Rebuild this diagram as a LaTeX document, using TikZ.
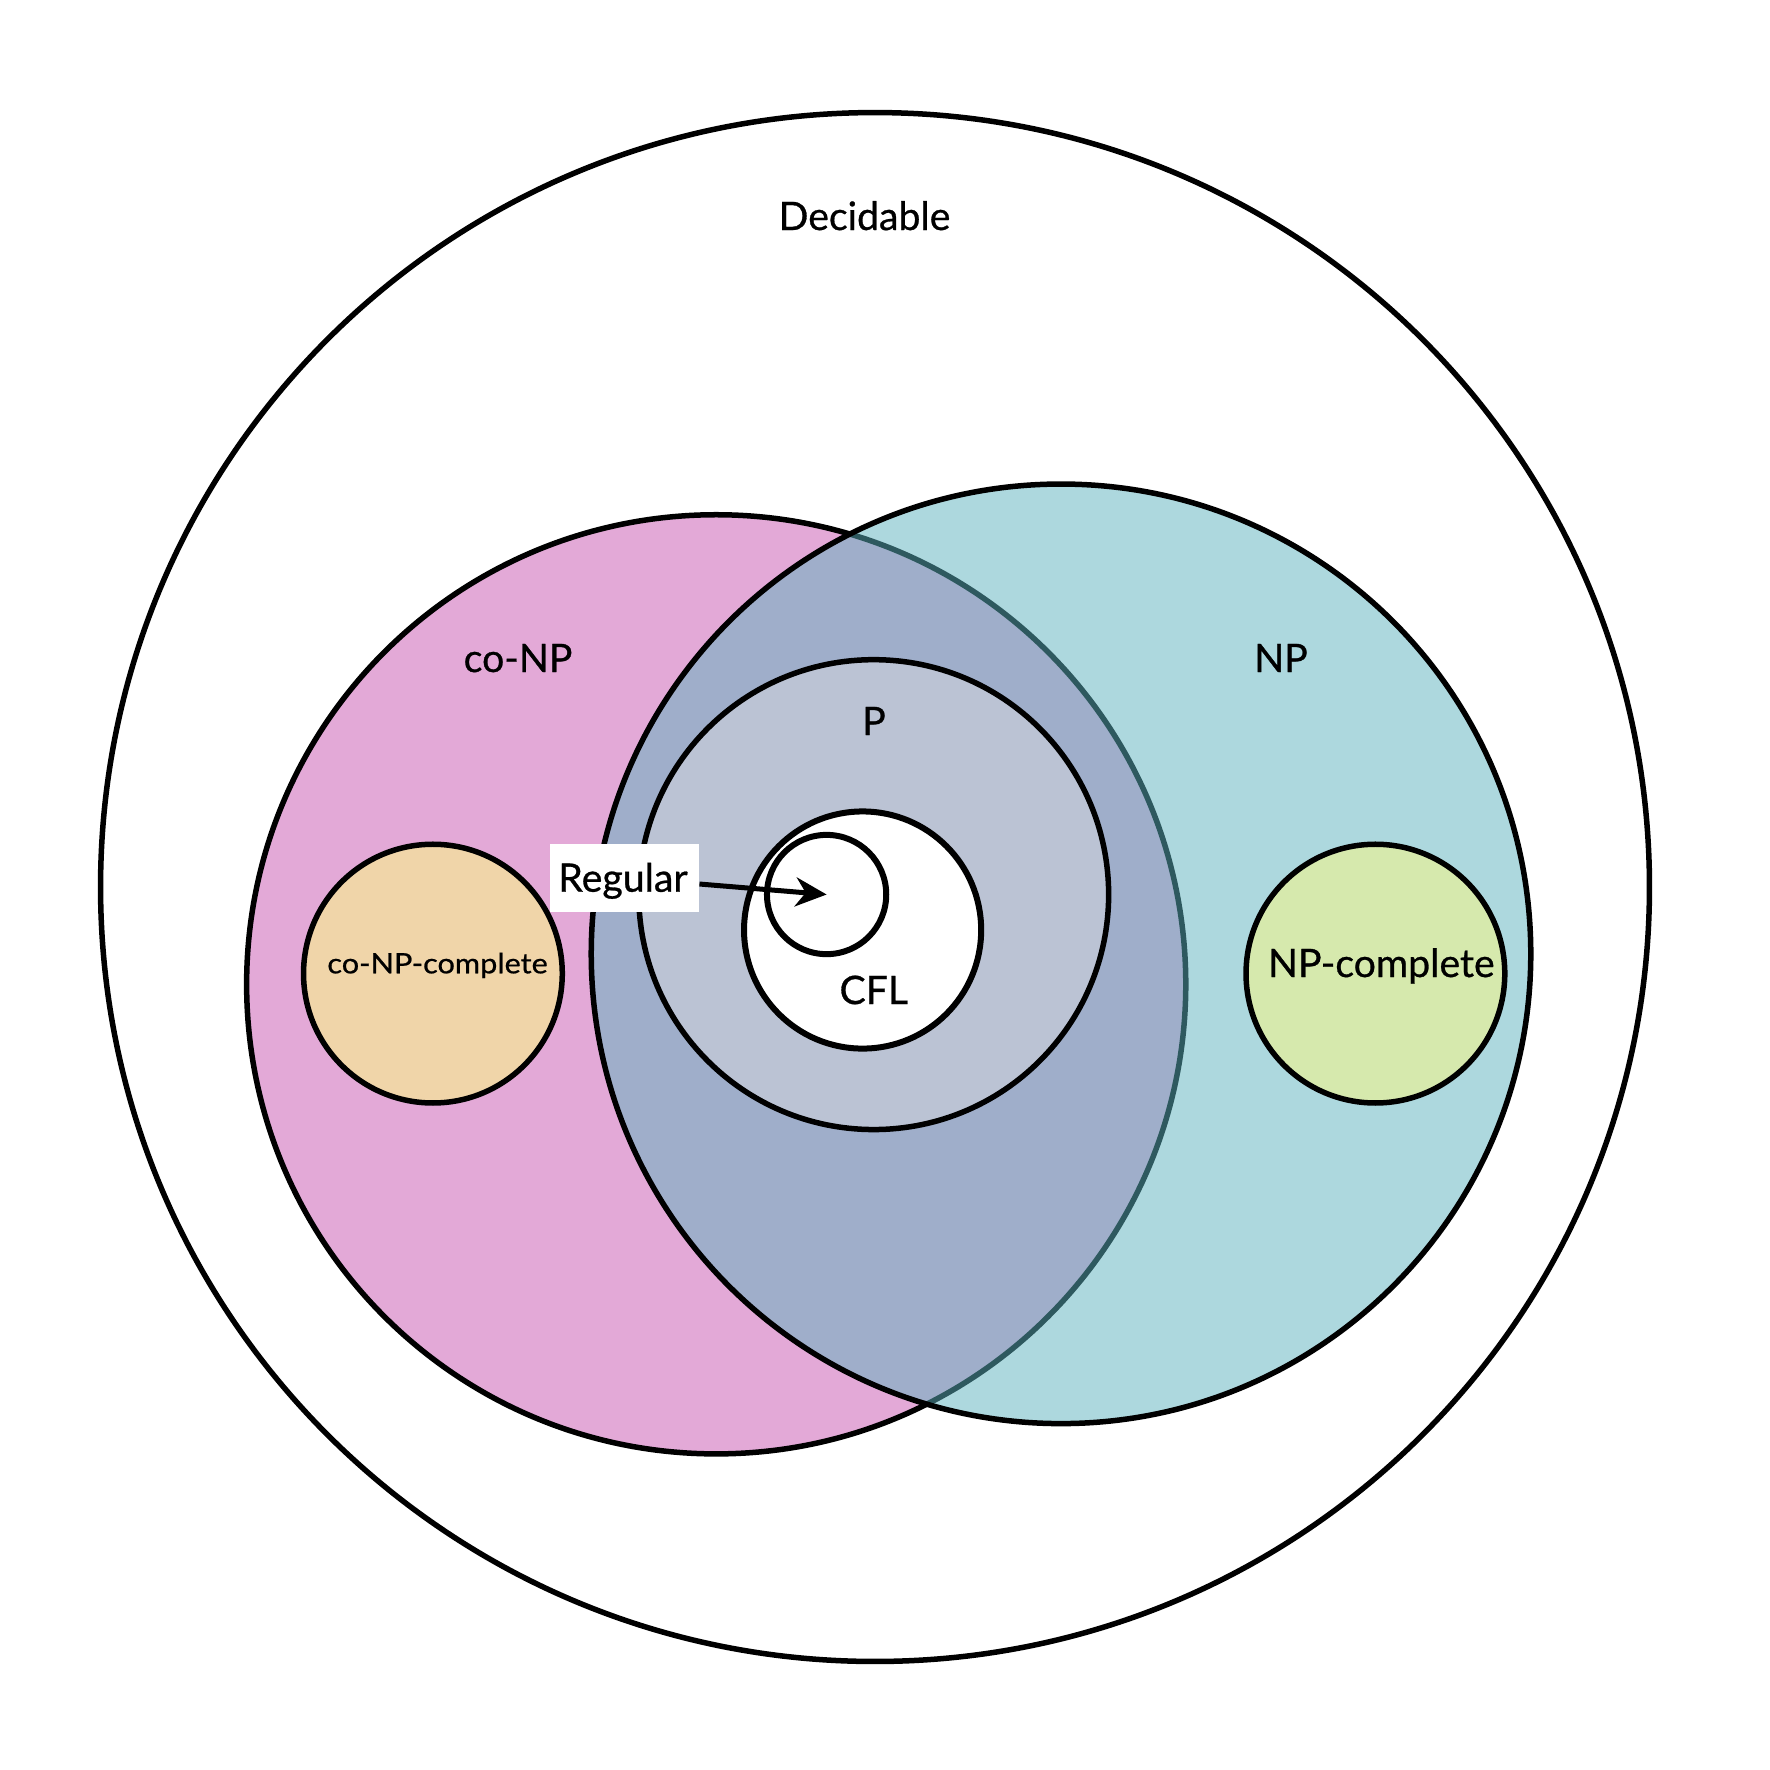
\documentclass[tikz,border=0pt]{standalone}
\usepackage{fontspec}
\setmainfont{Lato}[BoldFont=Lato, BoldFeatures={FakeBold=0.7}]
\usetikzlibrary{arrows.meta}
\definecolor{conpcol}{RGB}{227,169,215}
\definecolor{npcol}{RGB}{93,179,191}
\definecolor{pcol}{RGB}{187,195,212}
\definecolor{conpccol}{RGB}{240,213,169}
\definecolor{npccol}{RGB}{214,233,173}
\begin{document}
\begin{tikzpicture}[x=0.01cm,y=-0.01cm,
  set/.style={circle,draw=black,line width=0.055cm,inner sep=0pt,minimum size=#1},
  lbl/.style={anchor=base,font=\fontsize{11.15pt}{13pt}\selectfont\bfseries,inner sep=0pt},
  smalllbl/.style={anchor=base,font=\fontsize{8pt}{9pt}\selectfont\bfseries,inner sep=0pt,xscale=1.09},
  ]
\useasboundingbox[fill=white] (0,0) rectangle (1770,1769);
\node[set=15.48cm, fill=white] (dec) at (875,887) {};
\node[set=9.386cm, fill=conpcol] (conp) at (716.2,984.3) {};
\node[set=9.39cm, fill=npcol, fill opacity=0.5] (np) at (1061,953.8) {};
\node[set=4.696cm, fill=pcol] (p) at (873.7,894.6) {};
\node[set=2.37cm, fill=white, line width=0.06cm] (cfl) at (862.6,930) {};
\node[set=1.192cm, fill=white, line width=0.06cm] (reg) at (826.6,894.5) {};
\node[set=2.586cm, fill=conpccol] (conpc) at (432.9,973.6) {};
\node[set=2.586cm, fill=npccol] (npc) at (1375.4,973.6) {};
\node[fill=white, minimum width=1.49cm, minimum height=0.68cm, inner sep=0pt] (regbox) at (624.2,877.8) {};
\node[lbl] (treg) at (623,891.7) {Regular};
\draw[line width=0.05cm, -{Stealth[length=0.31cm,width=0.29cm]}] (regbox) -- (reg.center);
\node[lbl] (tdec) at (864.5,230) {Decidable};
\node[lbl] (tconp) at (518,672) {co-NP};
\node[lbl] (tnp) at (1281,672) {NP};
\node[lbl] (tp) at (874,735) {P};
\node[lbl] (tcfl) at (873.8,1004) {CFL};
\node[smalllbl] (tconpc) at (437.5,973.3) {co-NP-complete};
\node[lbl] (tnpc) at (1381.3,977) {NP-complete};
\end{tikzpicture}
\end{document}
